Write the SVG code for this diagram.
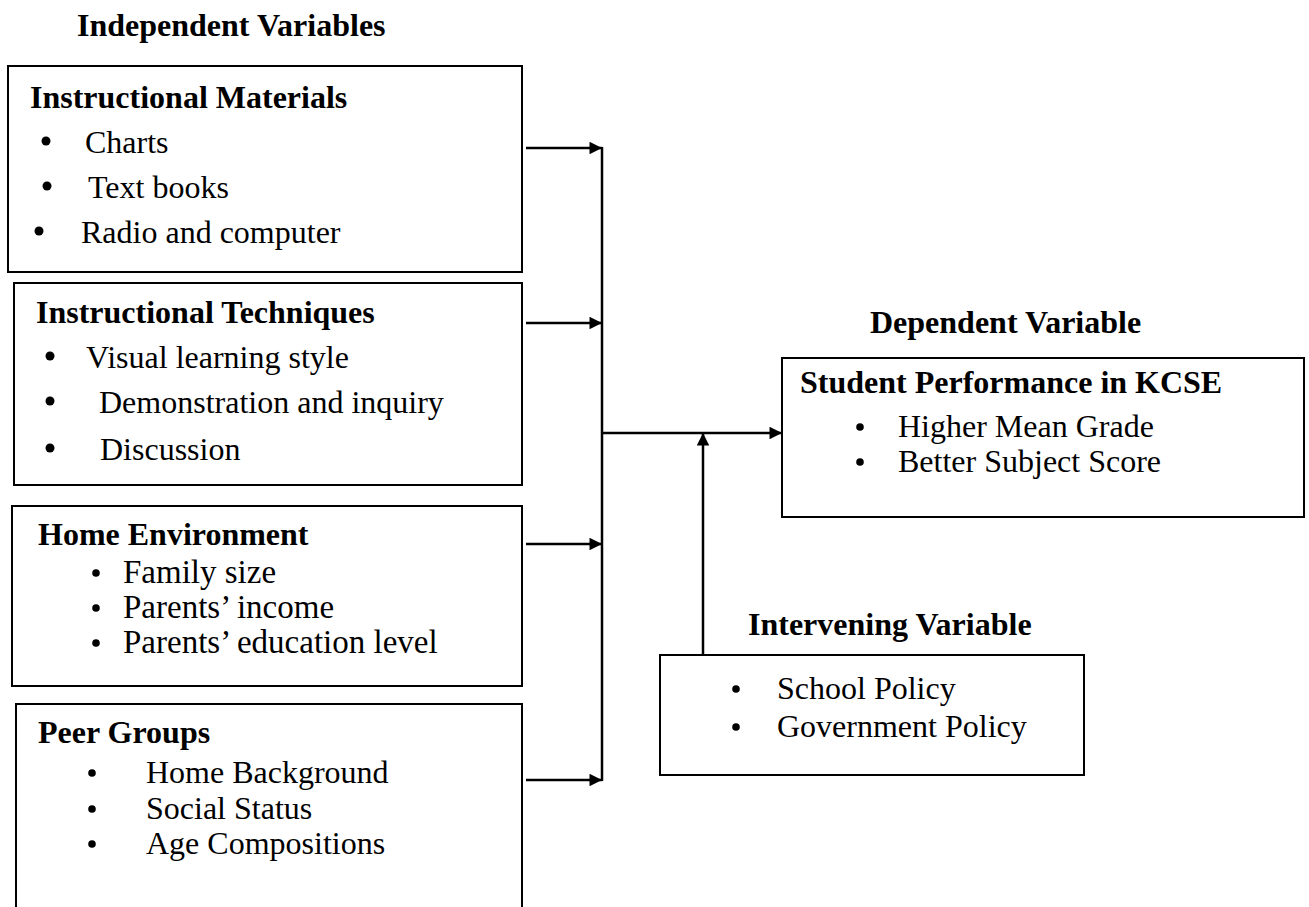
<svg xmlns="http://www.w3.org/2000/svg" width="1309" height="907" viewBox="0 0 1309 907">
<defs>
<style>
.box{fill:#fff;stroke:#000;stroke-width:2}
.t{font-family:"Liberation Serif","Times New Roman",serif;font-size:32px;fill:#000}
.t3{font-family:"Liberation Serif","Times New Roman",serif;font-size:33px;fill:#000}
.b{font-family:"Liberation Serif","Times New Roman",serif;font-size:32px;font-weight:bold;fill:#000}
.dl{fill:#000}
.c{stroke:#000;stroke-width:2.5;fill:none}
</style>
<marker id="ah" viewBox="0 0 10 10" refX="10" refY="5" markerWidth="5.5" markerHeight="5" orient="auto" markerUnits="strokeWidth">
<path d="M0,0 L10,5 L0,10 z" fill="#000"/>
</marker>
</defs>
<rect width="1309" height="907" fill="#fff"/>
<text class="b" x="77" y="36">Independent Variables</text>
<text class="b" x="870" y="333">Dependent Variable</text>
<text class="b" x="748" y="635">Intervening Variable</text>

<g id="n1">
<rect class="box" x="8" y="66" width="514" height="206"/>
<text class="b" x="30" y="108">Instructional Materials</text>
<circle class="dl" cx="46" cy="141" r="4.5"/><text class="t" x="85" y="153">Charts</text>
<circle class="dl" cx="47" cy="186" r="4.5"/><text class="t" x="88" y="198">Text books</text>
<circle class="dl" cx="39" cy="231" r="4.5"/><text class="t" x="81" y="243">Radio and computer</text>
</g>
<g id="n2">
<rect class="box" x="14" y="283" width="508" height="202"/>
<text class="b" x="36" y="323">Instructional Techniques</text>
<circle class="dl" cx="50" cy="356" r="4.5"/><text class="t" x="86" y="368">Visual learning style</text>
<circle class="dl" cx="50" cy="401" r="4.5"/><text class="t" x="99" y="413">Demonstration and inquiry</text>
<circle class="dl" cx="50" cy="448" r="4.5"/><text class="t" x="100" y="460">Discussion</text>
</g>
<g id="n3">
<rect class="box" x="12" y="506" width="510" height="180"/>
<text class="b" x="38" y="545">Home Environment</text>
<circle class="dl" cx="96" cy="573" r="3.8"/><text class="t3" x="123" y="583">Family size</text>
<circle class="dl" cx="96" cy="608" r="3.8"/><text class="t3" x="123" y="618">Parents’ income</text>
<circle class="dl" cx="96" cy="643" r="3.8"/><text class="t3" x="123" y="653">Parents’ education level</text>
</g>
<g id="n4">
<rect class="box" x="16" y="704" width="506" height="220"/>
<text class="b" x="38" y="743">Peer Groups</text>
<circle class="dl" cx="92" cy="773" r="3.8"/><text class="t" x="146" y="783">Home Background</text>
<circle class="dl" cx="92" cy="809" r="3.8"/><text class="t" x="146" y="819">Social Status</text>
<circle class="dl" cx="92" cy="844" r="3.8"/><text class="t" x="146" y="854">Age Compositions</text>
</g>
<g id="n5">
<rect class="box" x="782" y="358" width="522" height="159"/>
<text class="b" x="800" y="393">Student Performance in KCSE</text>
<circle class="dl" cx="860" cy="427" r="3.8"/><text class="t" x="898" y="437">Higher Mean Grade</text>
<circle class="dl" cx="860" cy="462" r="3.8"/><text class="t" x="898" y="472">Better Subject Score</text>
</g>
<g id="n6">
<rect class="box" x="660" y="655" width="424" height="120"/>
<circle class="dl" cx="736" cy="689" r="3.8"/><text class="t" x="777" y="699">School Policy</text>
<circle class="dl" cx="736" cy="727" r="3.8"/><text class="t" x="777" y="737">Government Policy</text>
</g>
<g id="connectors">
<line class="c" x1="526" y1="148" x2="602" y2="148" marker-end="url(#ah)"/>
<line class="c" x1="526" y1="323" x2="602" y2="323" marker-end="url(#ah)"/>
<line class="c" x1="526" y1="544" x2="602" y2="544" marker-end="url(#ah)"/>
<line class="c" x1="526" y1="780" x2="602" y2="780" marker-end="url(#ah)"/>
<line class="c" x1="602" y1="147" x2="602" y2="781"/>
<line class="c" x1="602" y1="433" x2="782" y2="433" marker-end="url(#ah)"/>
<line class="c" x1="703" y1="655" x2="703" y2="433" marker-end="url(#ah)"/>
</g>
</svg>
